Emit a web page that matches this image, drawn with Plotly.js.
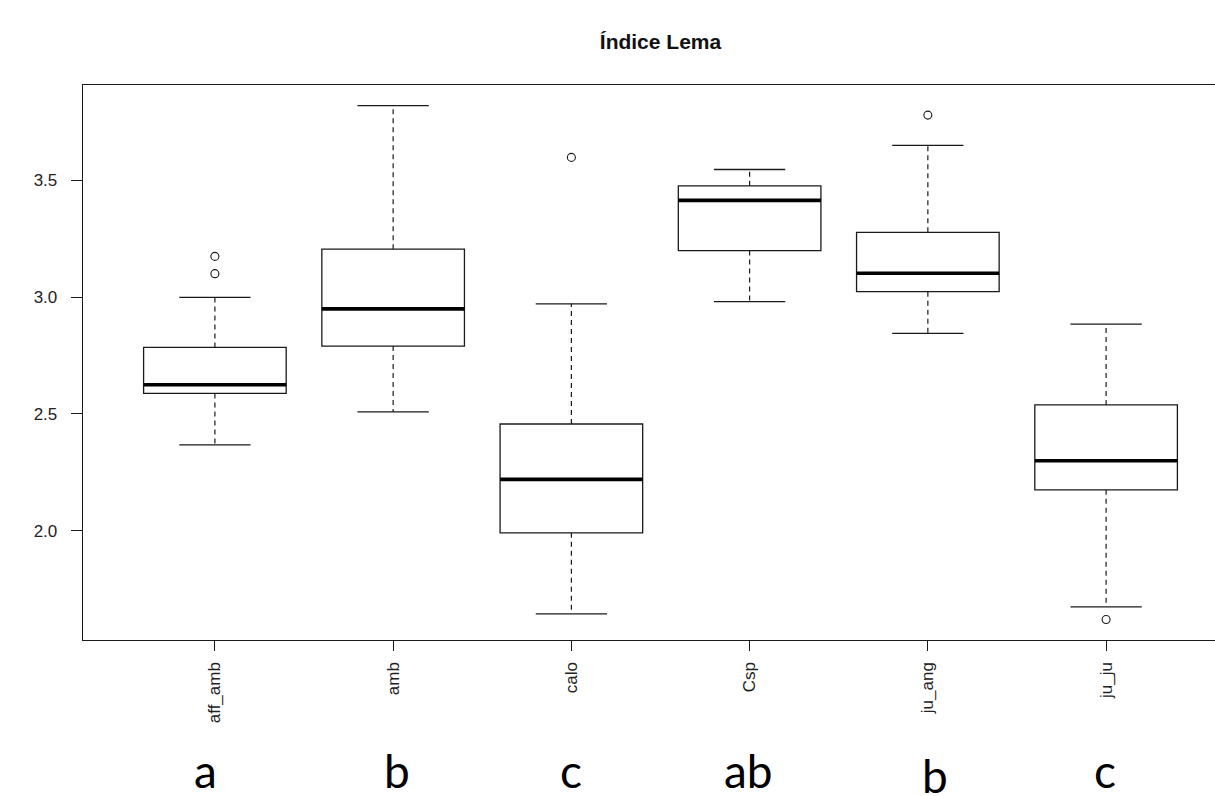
<!DOCTYPE html>
<html>
<head>
<meta charset="utf-8">
<script src="https://cdn.plot.ly/plotly-3.0.1.min.js"></script>
<style>
  html, body { margin: 0; padding: 0; overflow: hidden; background: #fff; }
  #chart { width: 1245px; height: 796px; }
</style>
</head>
<body>
<div id="chart"></div>
<script>
// ---- data ----
const categories   = ['aff_amb', 'amb', 'calo', 'Csp', 'ju_ang', 'ju_ju'];
const lowerWhisker = [2.368, 2.509, 1.644, 2.981, 2.845, 1.674];
const q1Values     = [2.588, 2.791, 1.991, 3.200, 3.024, 2.175];
const medianValues = [2.625, 2.950, 2.220, 3.415, 3.103, 2.300];
const q3Values     = [2.785, 3.206, 2.457, 3.477, 3.278, 2.539];
const upperWhisker = [2.999, 3.821, 2.972, 3.547, 3.650, 2.885];
const outliers     = [[3.175, 3.101], [], [3.599], [], [3.780], [1.620]];
const sigLetters   = ['a', 'b', 'c', 'ab', 'b', 'c'];
const yTickValues  = [2.0, 2.5, 3.0, 3.5];

// ---- build traces ----
const pos = categories.map((c, i) => i + 1);
const BOXW = 0.8, CAPW = 0.4;
const INK = '#1a1a1a';

const boxTrace = {
  type: 'box',
  x: pos,
  q1: q1Values,
  median: medianValues,
  q3: q3Values,
  lowerfence: q1Values,
  upperfence: q3Values,
  width: BOXW,
  whiskerwidth: 0,
  fillcolor: '#ffffff',
  line: { color: INK, width: 1.3 },
  boxpoints: false,
  hoverinfo: 'skip',
  showlegend: false
};

const wx = [], wy = [], cx = [], cy = [], mx = [], my = [], ox = [], oy = [];
pos.forEach((p, i) => {
  wx.push(p, p, null, p, p, null);
  wy.push(q3Values[i], upperWhisker[i], null, q1Values[i], lowerWhisker[i], null);
  cx.push(p - CAPW / 2, p + CAPW / 2, null, p - CAPW / 2, p + CAPW / 2, null);
  cy.push(upperWhisker[i], upperWhisker[i], null, lowerWhisker[i], lowerWhisker[i], null);
  mx.push(p - BOXW / 2, p + BOXW / 2, null);
  my.push(medianValues[i], medianValues[i], null);
  outliers[i].forEach(v => { ox.push(p); oy.push(v); });
});

const whiskerTrace = {
  type: 'scatter', mode: 'lines', x: wx, y: wy,
  line: { color: INK, width: 1.2, dash: '5px,4px' },
  hoverinfo: 'skip', showlegend: false
};
const capTrace = {
  type: 'scatter', mode: 'lines', x: cx, y: cy,
  line: { color: INK, width: 1.3 },
  hoverinfo: 'skip', showlegend: false
};
const medianTrace = {
  type: 'scatter', mode: 'lines', x: mx, y: my,
  line: { color: '#000', width: 3.6 },
  hoverinfo: 'skip', showlegend: false
};
const outlierTrace = {
  type: 'scatter', mode: 'markers', x: ox, y: oy,
  marker: { symbol: 'circle-open', size: 8, color: INK, line: { width: 1.1, color: INK } },
  hoverinfo: 'y', showlegend: false
};

// significance letters below the axis
const letterShift = [-9, 4, 0, -1, 7, -1];
const letterYShift = [0, 0, 0, 0, -5, 0];
const annotations = sigLetters.map((t, i) => ({
  text: t, x: pos[i], xref: 'x', y: -0.236, yref: 'paper',
  xanchor: 'center', yanchor: 'middle', showarrow: false,
  xshift: letterShift[i], yshift: letterYShift[i],
  font: { family: 'Lato, "Open Sans", sans-serif', size: 46, color: '#000' }
}));

const tickFont = { family: '"Liberation Sans", Arial, sans-serif', size: 17, color: '#222' };

const layout = {
  width: 1245, height: 796,
  margin: { l: 83, r: 7, t: 85, b: 156, pad: 0 },
  paper_bgcolor: '#fff', plot_bgcolor: '#fff',
  title: {
    text: 'Índice Lema',
    x: 0.5, xref: 'paper', xanchor: 'center',
    y: 1 - 42 / 796, yref: 'container', yanchor: 'middle',
    font: { family: '"Liberation Sans", Arial, sans-serif', size: 21, weight: 'bold', color: '#111' }
  },
  xaxis: {
    range: [0.26, 6.74],
    tickvals: pos, ticktext: categories,
    tickangle: -90,
    ticks: 'outside', ticklen: 10, tickwidth: 1, tickcolor: INK,
    ticklabelstandoff: 4,
    showline: true, mirror: true, linecolor: INK, linewidth: 1.3,
    showgrid: false, zeroline: false,
    tickfont: tickFont
  },
  yaxis: {
    range: [1.532, 3.909],
    tickvals: yTickValues, tickformat: '.1f',
    ticks: 'outside', ticklen: 11, tickwidth: 1, tickcolor: INK,
    ticklabelstandoff: 10,
    showline: true, mirror: true, linecolor: INK, linewidth: 1.3,
    showgrid: false, zeroline: false,
    tickfont: tickFont
  },
  boxmode: 'overlay',
  showlegend: false,
  annotations: annotations
};

Plotly.newPlot('chart', [boxTrace, whiskerTrace, capTrace, medianTrace, outlierTrace], layout,
  { displayModeBar: false, staticPlot: true });
</script>
</body>
</html>
